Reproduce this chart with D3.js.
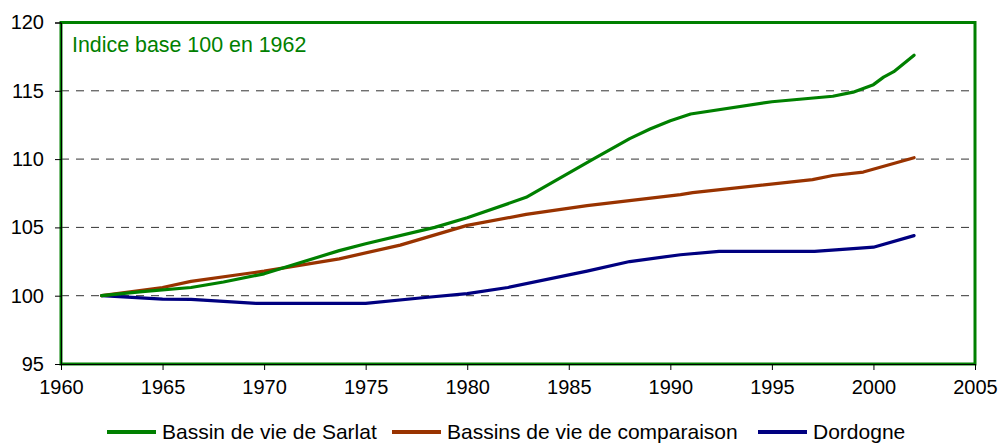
<!DOCTYPE html>
<html>
<head>
<meta charset="utf-8">
<script src="https://cdn.jsdelivr.net/npm/d3@7"></script>
<style>
  body { margin: 0; background: #fff; }
  svg { display: block; font-family: "Liberation Sans", Arial, sans-serif; }
</style>
</head>
<body>
<div id="chart"></div>
<script>
// values (index, base 100 in 1962)
const sarlatYears = [1962, 1964, 1966.4, 1968, 1970, 1973.7, 1975, 1978.4, 1980, 1982.9, 1986.2, 1988, 1989, 1990, 1991, 1995, 1998, 1999, 2000, 2000.5, 2001, 2002];
const sarlatValues = [100, 100.3, 100.6, 101.0, 101.6, 103.3, 103.8, 105.0, 105.7, 107.2, 110.0, 111.5, 112.2, 112.8, 113.3, 114.2, 114.6, 114.9, 115.45, 116.0, 116.4, 117.6];

const compYears = [1962, 1965, 1966.4, 1970, 1973.7, 1976.7, 1980, 1982.9, 1985.9, 1990.5, 1991.1, 1997, 1998, 1999.5, 2002];
const compValues = [100, 100.6, 101.05, 101.8, 102.7, 103.7, 105.15, 105.95, 106.6, 107.4, 107.55, 108.5, 108.8, 109.05, 110.1];

const dordYears = [1962, 1965, 1966.4, 1969.6, 1975, 1977.8, 1980, 1982, 1985.9, 1988, 1990.5, 1992.4, 1997.1, 1999, 2000, 2002];
const dordValues = [100, 99.75, 99.73, 99.44, 99.44, 99.85, 100.15, 100.6, 101.8, 102.5, 103.0, 103.25, 103.25, 103.44, 103.55, 104.4];

const xTicks = [1960, 1965, 1970, 1975, 1980, 1985, 1990, 1995, 2000, 2005];
const yTicks = [95, 100, 105, 110, 115, 120];
const seriesNames = ["Bassin de vie de Sarlat", "Bassins de vie de comparaison", "Dordogne"];
const seriesColors = ["#008000", "#993300", "#000080"];

const width = 1001;
const height = 444;
const plotLeft = 61, plotRight = 975, plotTop = 22.5, plotBottom = 364;

const svg = d3.select("#chart")
  .append("svg")
  .attr("width", width)
  .attr("height", height);

const x = d3.scaleLinear().domain([1960, 2005]).range([plotLeft, plotRight]);
const y = d3.scaleLinear().domain([95, 120]).range([plotBottom, plotTop]);

// dashed gridlines
svg.append("g")
  .selectAll("line")
  .data(yTicks.filter(d => d > 95 && d < 120))
  .join("line")
  .attr("x1", plotLeft)
  .attr("x2", plotRight)
  .attr("y1", d => y(d))
  .attr("y2", d => y(d))
  .attr("stroke", "#333")
  .attr("stroke-width", 1)
  .attr("stroke-dasharray", "8,7");

// green frame of the plot area
svg.append("rect")
  .attr("x", plotLeft)
  .attr("y", plotTop)
  .attr("width", plotRight - plotLeft)
  .attr("height", plotBottom - plotTop)
  .attr("fill", "none")
  .attr("stroke", "#008000")
  .attr("stroke-width", 3);

// axes
const yAxis = svg.append("g")
  .attr("transform", `translate(${plotLeft},0)`)
  .call(d3.axisLeft(y).tickValues(yTicks).tickSize(6).tickPadding(11));

const xAxis = svg.append("g")
  .attr("transform", `translate(0,${plotBottom})`)
  .call(d3.axisBottom(x).tickValues(xTicks).tickFormat(d3.format("d")).tickSize(6).tickPadding(10));

[yAxis, xAxis].forEach(g => {
  g.select(".domain").attr("stroke", "#000").attr("stroke-width", 1);
  g.selectAll(".tick line").attr("stroke", "#000");
  g.selectAll("text")
    .attr("fill", "#000")
    .style("font-size", "20px")
    .style("font-family", "'Liberation Sans', Arial, sans-serif");
});

// series
const series = [
  { years: sarlatYears, values: sarlatValues },
  { years: compYears, values: compValues },
  { years: dordYears, values: dordValues }
];

const line = d3.line()
  .x(d => x(d[0]))
  .y(d => y(d[1]));

// draw Dordogne first, Sarlat on top
[2, 1, 0].forEach(i => {
  const pts = series[i].years.map((yr, k) => [yr, series[i].values[k]]);
  svg.append("path")
    .datum(pts)
    .attr("d", line)
    .attr("fill", "none")
    .attr("stroke", seriesColors[i])
    .attr("stroke-width", 3.2)
    .attr("stroke-linejoin", "round")
    .attr("stroke-linecap", "round");
});

// note inside the plot
svg.append("text")
  .attr("x", 72)
  .attr("y", 52)
  .attr("fill", "#008000")
  .style("font-size", "21.4px")
  .text("Indice base 100 en 1962");

// legend
const legendX = [107, 392, 758];
const legend = svg.append("g");
seriesNames.forEach((name, i) => {
  legend.append("line")
    .attr("x1", legendX[i])
    .attr("x2", legendX[i] + 49)
    .attr("y1", 432)
    .attr("y2", 432)
    .attr("stroke", seriesColors[i])
    .attr("stroke-width", 4);
  legend.append("text")
    .attr("x", legendX[i] + 55)
    .attr("y", 438.5)
    .attr("fill", "#000")
    .style("font-size", "21px")
    .text(name);
});
</script>
</body>
</html>
